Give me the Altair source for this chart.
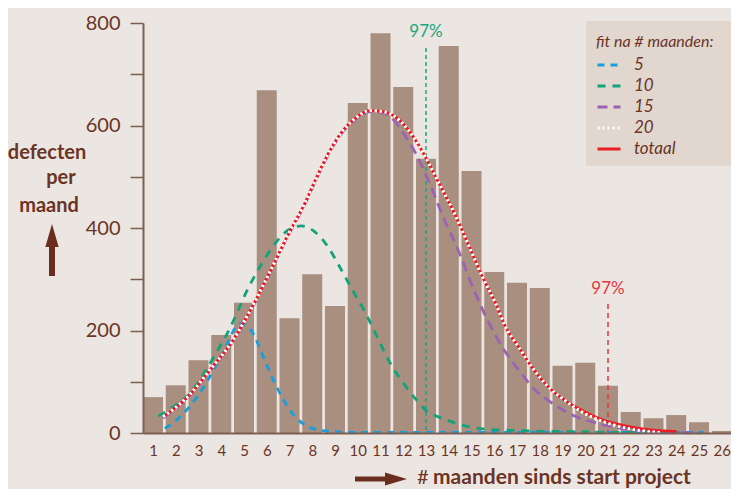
import altair as alt
import pandas as pd

# ---------------- data ----------------
months = list(range(1, 27))
defects = [70, 93, 142, 191, 254, 669, 224, 310, 248, 644, 780, 675, 535,
           755, 511, 314, 293, 283, 131, 137, 92, 41, 29, 35, 21, 4]

series_names = ["5", "10", "15", "20", "totaal"]
series_colors = ["#1B9DDB", "#13A37B", "#9B62B5", "#FFFFFF", "#EC1C24"]
series_dashes = [[7, 6], [8, 7], [10, 6], [2, 3], [1, 0]]

fit5_x = [1.52, 2.03, 2.6, 3.33, 4.05, 4.85, 5.35, 5.79, 6.22, 6.66, 7.24, 7.67,
          8.25, 8.83, 10, 13, 16, 19, 22, 25.2]
fit5_y = [9, 25, 51, 97, 155, 214, 198, 155, 110, 71, 32, 16, 6, 3, 1, 1, 1, 1, 1, 1]

fit10_x = [1.23, 1.88, 2.61, 3.33, 3.76, 4.34, 5.21, 5.79, 6.37, 6.95, 7.52, 8.1,
           8.68, 9.12, 9.69, 10.27, 10.85, 11.43, 12.01, 12.59, 13.17, 13.46,
           14.32, 14.9, 15.5, 16.2, 16.9, 17.6, 18.2, 19.1, 21.27, 23.15]
fit10_y = [33, 51, 77, 123, 155, 201, 285, 331, 370, 396, 404, 393, 364, 331, 285,
           240, 188, 136, 97, 64, 38, 33, 19, 12, 8, 6, 5, 4, 3, 3, 1, 1]

fit15_x = [1.45, 2.6, 3.5, 4.5, 5.5, 6.2, 6.95, 7.67, 8.1, 8.68, 9.26, 9.84, 10.56,
           11.14, 11.43, 12.01, 12.59, 13.17, 13.75, 14.47, 15.05, 15.63, 16.35,
           17.07, 17.8, 18.66, 19.53, 20.55, 21.56, 22.72, 23.87, 25.0]
fit15_y = [29, 72, 121, 178, 256, 318, 386, 446, 488, 541, 583, 610, 627, 624, 617,
           585, 542, 486, 422, 351, 285, 227, 168, 123, 84, 55, 33, 19, 9, 3, 1, 0]

fit20_x = [1.45, 2.6, 3.5, 4.5, 5.5, 6.2, 6.95, 7.67, 8.1, 8.68, 9.26, 9.84, 10.56,
           11.14, 11.86, 12.59, 13.17, 13.46, 14.32, 14.9, 15.48, 16.06, 16.5,
           17.07, 17.65, 18.38, 19.1, 19.82, 20.69, 21.56, 22.43, 23.3]
fit20_y = [32, 74, 123, 180, 258, 320, 388, 448, 490, 543, 585, 612, 629, 627, 609,
           568, 522, 497, 422, 364, 305, 253, 207, 168, 129, 90, 64, 42, 24, 12, 5, 1]

total_x = [1.45, 2.6, 3.5, 4.5, 5.5, 6.2, 6.95, 7.67, 8.1, 8.68, 9.26, 9.84, 10.56,
           11.14, 11.86, 12.59, 13.17, 13.46, 14.32, 14.9, 15.48, 16.06, 16.5,
           17.07, 17.65, 18.38, 19.1, 19.82, 20.69, 21.56, 22.72, 24.02]
total_y = [32, 74, 123, 180, 258, 320, 388, 448, 490, 543, 585, 612, 629, 627, 609,
           568, 522, 497, 422, 364, 305, 253, 207, 168, 129, 90, 64, 45, 27, 16, 7, 3]

marker_x = [13, 21]
marker_label = ["97%", "97%"]

# ---------------- styles ----------------
brown = "#6B3424"
axis_col = "#7E5E52"
bar_col = "#A88F7F"
bg_col = "#ECE6E2"
legend_bg = "#E1D7CF"
FONT = "Lato"

x_scale = alt.Scale(domain=[0.5604, 26.407], nice=False, zero=False, padding=0)
y_scale = alt.Scale(domain=[0, 800], nice=False, padding=0)

x_axis = alt.Axis(values=months, format="d", ticks=False, tickSize=0,
                  labelPadding=10, labelFontSize=15, labelColor=brown, labelFont=FONT,
                  domain=True, domainColor=axis_col, domainWidth=2, grid=False,
                  title=None, labelFlush=False, labelOverlap=False, labelBound=False,
                  zindex=1)
y_axis = alt.Axis(values=list(range(0, 801, 100)),
                  labelExpr="datum.value % 200 == 0 ? datum.label : ''",
                  ticks=True, tickSize=13, tickColor=axis_col, tickWidth=1.5,
                  domain=True, domainColor=axis_col, domainWidth=2, labelPadding=10,
                  labelFontSize=20, labelColor=brown, labelFont=FONT,
                  grid=False, title=None, labelOverlap=False, labelFlush=False,
                  zindex=1)

bars_df = pd.DataFrame({"month": months, "defects": defects})

rows = []
for name, xs, ys in [("5", fit5_x, fit5_y), ("10", fit10_x, fit10_y),
                     ("15", fit15_x, fit15_y), ("totaal", total_x, total_y),
                     ("20", fit20_x, fit20_y)]:
    for xv, yv in zip(xs, ys):
        rows.append({"series": name, "x": xv, "y": yv})
lines_df = pd.DataFrame(rows)
white_df = lines_df[lines_df["series"] == "20"]

one = pd.DataFrame({"k": [0]})


def X(field):
    return alt.X(field, scale=x_scale, axis=x_axis)


def Y(field):
    return alt.Y(field, scale=y_scale, axis=y_axis)


# ---------------- layers ----------------
bars = alt.Chart(bars_df).mark_bar(size=20, color=bar_col).encode(
    x=X("month:Q"), y=Y("defects:Q"))

legend_box = alt.Chart(one).mark_rect(color=legend_bg).encode(
    x=alt.value(443), x2=alt.value(588), y=alt.value(-2), y2=alt.value(143)
)

marker_df = pd.DataFrame({"x": marker_x, "label": marker_label})

green_rule = alt.Chart(marker_df.iloc[[0]]).mark_rule(
    color="#1AA67E", strokeDash=[4, 3], strokeWidth=1.5).encode(
    x=X("x:Q"), y=alt.value(25), y2=alt.value(410))
red_rule = alt.Chart(marker_df.iloc[[1]]).mark_rule(
    color="#E8343F", strokeDash=[5, 4], strokeWidth=1.5).encode(
    x=X("x:Q"), y=alt.value(281), y2=alt.value(410))

green_txt = alt.Chart(marker_df.iloc[[0]]).mark_text(
    color="#1AA67E", fontSize=17, font=FONT, baseline="middle").encode(
    x=X("x:Q"), y=alt.value(9), text="label:N")
red_txt = alt.Chart(marker_df.iloc[[1]]).mark_text(
    color="#E8343F", fontSize=17, font=FONT, baseline="middle").encode(
    x=X("x:Q"), y=alt.value(266), text="label:N")

leg = alt.Legend(
    title="fit na # maanden:", orient="none", legendX=453, legendY=11,
    titleFontStyle="italic", titleFontWeight="normal", titleFontSize=16,
    titleColor=brown, titleFont=FONT, titlePadding=2,
    labelFontStyle="italic", labelFontSize=17, labelColor=brown, labelFont=FONT,
    labelExpr="datum.label == '5' ? '\u00a0\u00a0\u00a05' : datum.label",
    symbolType="stroke", symbolStrokeWidth=3, symbolSize=529,
    labelOffset=12, rowPadding=0, padding=0,
)

lines = alt.Chart(lines_df).mark_line(strokeWidth=2.8, interpolate="monotone").encode(
    x=X("x:Q"),
    y=Y("y:Q"),
    color=alt.Color("series:N", sort=series_names,
                    scale=alt.Scale(domain=series_names, range=series_colors),
                    legend=leg),
    strokeDash=alt.StrokeDash("series:N", sort=series_names,
                              scale=alt.Scale(domain=series_names, range=series_dashes),
                              legend=leg),
)

white_top = alt.Chart(white_df).mark_line(
    strokeWidth=2.7, interpolate="monotone", color="#FFFFFF", strokeDash=[2, 3]).encode(
    x=X("x:Q"), y=Y("y:Q"))


def txt(t, x, y, weight="bold", size=20, align="center"):
    return alt.Chart(one).mark_text(text=t, font=FONT, fontSize=size, fontWeight=weight,
                                    color=brown, align=align, baseline="alphabetic").encode(
        x=alt.value(x), y=alt.value(y))


ytitle1 = txt("defecten", -96, 136)
ytitle2 = txt("per", -82, 161)
ytitle3 = txt("maand", -94, 189)

arrow_col = "#6B2E1E"
up_shaft = alt.Chart(one).mark_rule(color=arrow_col, strokeWidth=6).encode(
    x=alt.value(-91), y=alt.value(222), y2=alt.value(253))
up_head = alt.Chart(one).mark_point(shape="M0,-1L0.58,1L-0.58,1Z", size=529,
                                    filled=True, color=arrow_col, opacity=1).encode(
    x=alt.value(-91), y=alt.value(212.5))

right_shaft = alt.Chart(one).mark_rule(color=arrow_col, strokeWidth=5).encode(
    x=alt.value(212), x2=alt.value(247), y=alt.value(456))
right_head = alt.Chart(one).mark_point(shape="M1,0L-1,0.6L-1,-0.6Z", size=484,
                                       filled=True, color=arrow_col, opacity=1).encode(
    x=alt.value(253), y=alt.value(456))

xtitle_hash = txt("#", 274, 461, weight="normal", size=20, align="left")
xtitle = txt("maanden sinds start project", 290, 461, size=21, align="left")

chart = alt.layer(
    bars, legend_box, green_rule, red_rule, lines, white_top, green_txt, red_txt,
    ytitle1, ytitle2, ytitle3, up_shaft, up_head, right_shaft, right_head,
    xtitle_hash, xtitle,
).resolve_scale(x="shared", y="shared").properties(
    width=588, height=410,
    padding={"left": 135, "top": 15, "right": 0, "bottom": 56},
    autosize=alt.AutoSizeParams(type="none"),
).configure(background=bg_col, font=FONT).configure_view(stroke=None)

chart.save("out.html", embed_options={"renderer": "svg", "actions": False})
